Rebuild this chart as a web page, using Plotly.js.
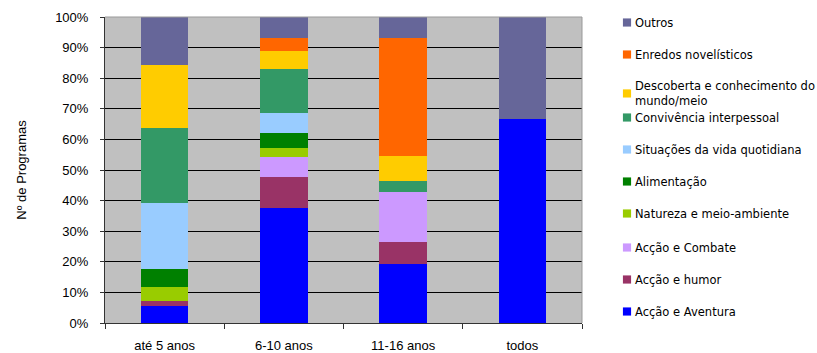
<!DOCTYPE html>
<html><head><meta charset="utf-8">
<script src="https://cdn.plot.ly/plotly-3.0.1.min.js"></script>
<style>body{margin:0;background:#fff}#chart{width:817px;height:353px}</style>
</head><body><div id="chart"></div>
<script>
const categories = ["até 5 anos", "6-10 anos", "11-16 anos", "todos"];
const seriesNames = ["Acção e Aventura", "Acção e humor", "Acção e Combate", "Natureza e meio-ambiente", "Alimentação", "Situações da vida quotidiana", "Convivência interpessoal", "Descoberta e conhecimento do<br>mundo/meio", "Enredos novelísticos", "Outros"];
const aventura     = [5.7, 37.7, 19.4, 66.7];
const humor        = [1.6, 10.1, 7.2, 0];
const combate      = [0, 6.5, 16.3, 0];
const natureza     = [4.4, 2.9, 0, 0];
const alimentacao  = [5.8, 4.9, 0, 0];
const situacoes    = [21.6, 6.5, 0, 0];
const convivencia  = [24.5, 14.4, 3.6, 0];
const descoberta   = [20.6, 5.9, 8.2, 0];
const enredos      = [0, 4.2, 38.5, 0];
const outros       = [15.9, 6.8, 6.8, 33.3];
const yTickVals = [0,10,20,30,40,50,60,70,80,90,100];
const yTickText = ["0%","10%","20%","30%","40%","50%","60%","70%","80%","90%","100%"];

const seriesValues = [aventura, humor, combate, natureza, alimentacao, situacoes, convivencia, descoberta, enredos, outros];
const colors = ["#0000FF", "#993366", "#CC99FF", "#99CC00", "#008000", "#99CCFF", "#339966", "#FFCC00", "#FF6600", "#666699"];
const legendOf = ["legend3","legend3","legend3","legend2","legend2","legend2","legend2","legend","legend","legend"];

const traces = seriesNames.map((n, i) => ({
  type: "bar", x: categories, y: seriesValues[i], name: n,
  marker: {color: colors[i], line: {width: 0}},
  legend: legendOf[i], legendgroup: "g" + i, legendrank: 1000 - i * 10,
  hoverinfo: "skip"
}));

const legFont = {family: "DejaVu Sans, Verdana, sans-serif", size: 11.5, color: "#000"};
const axFont = {family: "Liberation Sans, Arial, sans-serif", size: 13, color: "#000"};
const legX = 595 / 817;
const legCommon = {
  x: legX, xref: "container", xanchor: "left", yref: "container", yanchor: "top",
  traceorder: "grouped", font: legFont, bgcolor: "rgba(0,0,0,0)",
  itemwidth: 30, tracegroupgap: 13
};
const layout = {
  width: 817, height: 353,
  margin: {l: 105, r: 235, t: 17, b: 30},
  paper_bgcolor: "#fff", plot_bgcolor: "#C0C0C0",
  barmode: "stack", bargap: 0.6,
  showlegend: true,
  xaxis: {
    type: "category", tickson: "boundaries", ticks: "outside", ticklen: 5, tickcolor: "#333",
    showline: true, linecolor: "#333", linewidth: 1, showgrid: false,
    tickfont: axFont, ticklabelstandoff: 10,
    fixedrange: true
  },
  yaxis: {
    range: [0, 100], tickvals: yTickVals, ticktext: yTickText,
    ticks: "outside", ticklen: 4, tickcolor: "#333",
    showline: true, linecolor: "#333", linewidth: 1,
    showgrid: true, gridcolor: "#000", gridwidth: 1, zeroline: false,
    tickfont: axFont, ticklabelstandoff: 9,
    title: {text: "Nº de Programas", font: axFont, standoff: 25},
    fixedrange: true
  },
  legend: Object.assign({}, legCommon, {y: 1 - 8/353}),
  legend2: Object.assign({}, legCommon, {y: 1 - 103/353}),
  legend3: Object.assign({}, legCommon, {y: 1 - 233/353}),
  shapes: [
    {type: "line", xref: "paper", yref: "paper", x0: 0, x1: 1, y0: 1, y1: 1, line: {color: "#999", width: 1}},
    {type: "line", xref: "paper", yref: "paper", x0: 1, x1: 1, y0: 0, y1: 1, line: {color: "#999", width: 1}}
  ]
};
Plotly.newPlot("chart", traces, layout, {displayModeBar: false, staticPlot: true}).then(gd => {
  gd.querySelectorAll("g.legendpoints path").forEach(p => {
    p.setAttribute("transform", "translate(32,0) scale(0.68)");
  });
});
</script></body></html>
